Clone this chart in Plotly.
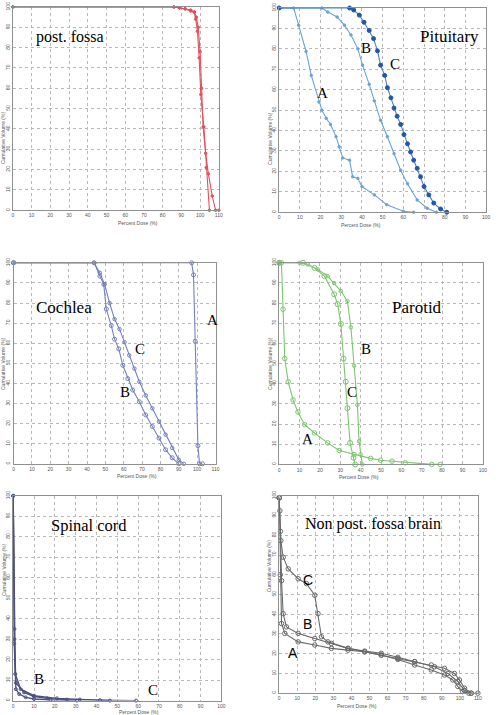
import plotly.graph_objects as go

# ---------------- data ----------------
# Panel 1: post. fossa
pf1_x = [0, 86, 89, 92, 95, 96.8, 97.7, 98.6, 99.5, 100.4, 102, 103.3, 105]
pf1_y = [100, 100, 99.5, 99, 98, 97.5, 94, 88, 75, 57, 41, 21, 0]
pf2_x = [0, 86, 89, 92, 95, 97, 98, 99, 100, 100.8, 101.6, 103, 104.4, 106.5, 108.3, 110]
pf2_y = [100, 100, 99.6, 99.2, 98.5, 97.5, 95, 90, 78, 60, 41, 28, 18, 7, 0, 0]

# Panel 2: Pituitary
pitA_x = [0, 7, 9.4, 13, 15.5, 19.2, 20.6, 22.7, 24.8, 27.5, 29, 30.7, 34, 35.5, 38, 40, 46, 52, 60, 65]
pitA_y = [100, 100, 91.6, 78.7, 67, 54, 50, 46, 43, 37, 32, 26.6, 25.5, 17.4, 16.6, 12.6, 8.5, 3.7, 0.5, 0]
pitB_x = [0, 20.6, 23.5, 28, 31.5, 34.7, 38, 40.3, 43.5, 46, 49, 52.3, 55.5, 58.7, 62, 66.7, 71.5, 76]
pitB_y = [100, 100, 98, 95.6, 91.6, 86.8, 80, 72, 62.6, 54.5, 45, 37, 28.7, 20.6, 14, 6, 2, 0]
pitC_x = [0, 34, 36, 38.7, 41, 43.5, 45.6, 47.5, 49, 51, 52.3, 54, 55.5, 57, 58.7, 60.3, 62, 63.5, 65,
          66.7, 68.3, 70, 72.3, 74.7, 78, 81]
pitC_y = [100, 100, 99, 96.5, 93, 89, 85, 79, 72, 67, 61, 56, 51, 47, 43, 38, 33.5, 29.5, 25.5,
          21.5, 17.4, 12.6, 8.5, 4.5, 1.6, 0]

# Panel 3: Cochlea
cocA_x = [0, 97, 98, 98.9, 100.4, 101.3, 102.9]
cocA_y = [100, 100, 94, 61, 9, 0, 0]
cocB_x = [0, 43.9, 47, 49.1, 50.5, 53.2, 55, 57.3, 59.5, 62.2, 64.9, 68.5, 72, 75.6, 79.2, 82.8, 86.4, 90]
cocB_y = [100, 100, 93.4, 89.3, 77, 68.8, 62, 57.2, 49, 42.4, 36.7, 30.9, 24.3, 18.6, 12.8, 7, 3, 0]
cocC_x = [0, 43.9, 47, 49.6, 52.3, 55, 57.7, 60.4, 63, 65.8, 68.5, 72, 75.6, 79.2, 82.8, 86.4, 90, 92.7]
cocC_y = [100, 100, 95, 89.3, 80, 72, 67, 60.5, 54, 47.4, 40.8, 34, 27.6, 21, 14.5, 7.9, 2, 0]

# Panel 4: Parotid
parA_x = [0, 1.1, 1.9, 2.75, 4.4, 6.8, 9.2, 12.5, 17.3, 23.8, 29.5, 36.8, 44.9, 49.8, 55.4, 61.9, 74.9, 79]
parA_y = [100, 100, 77, 52.5, 41, 32, 26, 19.7, 15.6, 10.7, 6.9, 4.9, 3, 2.1, 1.6, 0.8, 0, 0]
parB_x = [0, 10, 14.1, 19, 23.8, 27, 30.3, 33.5, 35.2, 36.8, 38.4, 39.2, 40, 40.8]
parB_y = [100, 100, 99.2, 96.7, 93.4, 90, 86, 81, 68, 49, 29.5, 11.5, 5, 0]
parC_x = [0, 11.7, 17.3, 22.2, 27, 28.7, 30.3, 31.6, 32.7, 33.5, 34.8, 36.5, 37.3]
parC_y = [100, 100, 97.5, 93.4, 84.4, 79.5, 69.7, 52.5, 41, 27.9, 10.7, 3.3, 0]

# Panel 5: Spinal cord
spA_x = [0, 0.5, 1.3, 2.9, 6, 10, 17.9, 30.6]
spA_y = [100, 27.8, 5.6, 3.2, 1.6, 0.8, 0.3, 0]
spB_x = [0, 0.6, 1.3, 5.2, 10, 16.3, 25.8, 41.7, 59]
spB_y = [100, 30, 8.7, 4, 2, 1.1, 0.5, 0.2, 0]
spC_x = [0, 0.6, 1.0, 3.6, 10, 21, 32, 46.4]
spC_y = [100, 35, 13, 5.6, 2.4, 1.1, 0.5, 0]

# Panel 6: Non post. fossa brain
brC_x = [0, 0.4, 0.9, 2.2, 5, 10.5, 15.1, 19.7, 21.5, 23.4, 27, 38.1, 47.3, 56.5, 65.7, 75, 86, 93.4, 98.9, 102.6, 106.3, 110]
brC_y = [99, 92.4, 77.3, 68.9, 63, 58, 55.5, 49.6, 40.3, 28.6, 26, 22.7, 21.3, 20.2, 18.2, 16, 13.4, 10, 5.9, 1.3, 0, 0]
brB_x = [0, 0.7, 1.3, 2.2, 4, 10.5, 19.7, 28.9, 38.1, 47.3, 56.5, 65.7, 75, 84.2, 91.5, 97, 99.8, 102.6, 106.3]
brB_y = [99, 82, 57, 40.3, 33.6, 30.3, 27.7, 25.2, 22.7, 21, 19.3, 17.6, 16, 14.3, 12.6, 10, 6.7, 2.5, 0]
brA_x = [0, 0.6, 1.3, 3.1, 10.5, 19.7, 28.9, 38.1, 47.3, 56.5, 65.7, 75, 84.2, 91.5, 96.1, 98.9, 101.6, 105]
brA_y = [99, 60, 35.3, 30.3, 26, 24.4, 22.7, 21.8, 21, 19.3, 17.1, 14.3, 11.8, 9.2, 6.7, 3.4, 0.8, 0]

y_ticks = list(range(0, 101, 10))

# ---------------- layout geometry ----------------
W, H = 500, 715
panels = [
    # (x0px, x1px, ytop_px, ybot_px, xmax)
    (12, 220, 2, 207, 110),
    (281, 490, 3, 209, 100),
    (12.7, 216.7, 260, 462.7, 110),
    (281, 486.7, 260, 463.3, 100),
    (12.3, 222.7, 495, 701.5, 100),
    (281, 481.7, 495, 694, 110),
]

fig = go.Figure()

def add_curve(i, xs, ys, color, msize=3, mcolor=None, symbol="circle-open", lw=1.1):
    fig.add_trace(go.Scatter(
        x=xs, y=ys, mode="lines+markers",
        line=dict(color=color, width=lw),
        marker=dict(size=msize, color=mcolor or color, symbol=symbol, line=dict(width=1, color=mcolor or color)),
        xaxis="x" + ("" if i == 1 else str(i)), yaxis="y" + ("" if i == 1 else str(i)),
        showlegend=False, cliponaxis=False,
    ))

red = "#e2505c"
add_curve(1, pf1_x, pf1_y, red, 2.5, symbol="circle")
add_curve(1, pf2_x, pf2_y, red, 2.5, symbol="circle")

lb = "#6aa3d8"
add_curve(2, pitA_x, pitA_y, lb, 2.5, symbol="circle")
add_curve(2, pitB_x, pitB_y, lb, 2.5, symbol="circle")
add_curve(2, pitC_x, pitC_y, "#4a82cc", 4, mcolor="#2456a8", symbol="circle")

pv = "#7480bd"
add_curve(3, cocA_x, cocA_y, pv, 4)
add_curve(3, cocB_x, cocB_y, pv, 4)
add_curve(3, cocC_x, cocC_y, pv, 3.5)

gr = "#7cc66e"
add_curve(4, parA_x, parA_y, gr, 4.5)
add_curve(4, parB_x, parB_y, gr, 3.5)
add_curve(4, parC_x, parC_y, gr, 5)

nv = "#4c5082"
add_curve(5, spA_x, spA_y, nv, 3, lw=1.4)
add_curve(5, spB_x, spB_y, nv, 3, lw=1.4)
add_curve(5, spC_x, spC_y, nv, 3, lw=1.4)

gy = "#6a6a6a"
add_curve(6, brC_x, brC_y, gy, 4.5)
add_curve(6, brB_x, brB_y, gy, 4.5)
add_curve(6, brA_x, brA_y, gy, 4.5)

axis_font = dict(family="Liberation Sans", size=5, color="#555")
annotations = []
for k, (x0, x1, yt, yb, xmax) in enumerate(panels, start=1):
    sx = "" if k == 1 else str(k)
    xd = [x0 / W, x1 / W]
    yd = [1 - yb / H, 1 - yt / H]
    fig.layout["xaxis" + sx] = dict(
        domain=xd, range=[0, xmax], anchor="y" + sx,
        tickvals=list(range(0, xmax + 1, 10)), tickfont=axis_font,
        showgrid=True, gridcolor="#b8b8b8", griddash="dot", gridwidth=1,
        showline=True, linecolor="#909090", linewidth=1.2, mirror=True,
        zeroline=False, ticks="", ticklen=0,
    )
    fig.layout["yaxis" + sx] = dict(
        domain=yd, range=[0, 100], anchor="x" + sx,
        tickvals=y_ticks, tickfont=axis_font, tickangle=-90,
        showgrid=True, gridcolor="#b8b8b8", griddash="dot", gridwidth=1,
        showline=True, linecolor="#909090", linewidth=1.2, mirror=True,
        zeroline=False, ticks="", ticklen=0,
    )
    # axis titles
    ty = min(yb + 12.5, 712.5)
    annotations.append(dict(text="Percent Dose (%)", x=(x0 + x1) / 2 / W, y=1 - ty / H,
                            xref="paper", yref="paper", showarrow=False, yanchor="middle",
                            font=dict(family="Liberation Sans", size=5, color="#555")))
    annotations.append(dict(text="Cumulative Volume (%)", x=(x0 - 10) / W, y=1 - (yt + yb) / 2 / H,
                            xref="paper", yref="paper", showarrow=False, textangle=-90,
                            xanchor="center",
                            font=dict(family="Liberation Sans", size=5, color="#555")))

serif = "Liberation Serif"
def lab(i, text, x, y, size=15, family=serif, xanchor="center"):
    sx = "" if i == 1 else str(i)
    annotations.append(dict(text=text, x=x, y=y, xref="x" + sx, yref="y" + sx,
                            showarrow=False, xanchor=xanchor, yanchor="middle",
                            font=dict(family=family, size=size, color="black")))

lab(1, "post. fossa", 11.1, 85, 16, xanchor="left")
lab(2, "Pituitary", 67.3, 86, 17, xanchor="left")
lab(2, "A", 21.1, 58.5)
lab(2, "B", 41.9, 80.3)
lab(2, "C", 56, 72.6)
lab(3, "Cochlea", 10.9, 77.8, 17, xanchor="left")
lab(3, "A", 108.2, 71.7)
lab(3, "C", 68.6, 57.2)
lab(3, "B", 60.6, 35.9)
lab(4, "Parotid", 54.6, 77.9, 17, xanchor="left")
lab(4, "B", 42.5, 57.4)
lab(4, "C", 35.6, 35.7)
lab(4, "A", 14.1, 12.8)
lab(5, "Spinal cord", 17.1, 85.7, 16.5, xanchor="left")
lab(5, "A", -1.9, 4.2)
lab(5, "B", 12.4, 10.6)
lab(5, "C", 67.3, 5.0)
lab(6, "Non post. fossa brain", 13.2, 85.7, 16, xanchor="left")
lab(6, "C", 15.9, 57.5, 14, family="Liberation Sans")
lab(6, "B", 15.5, 35.3, 14, family="Liberation Sans")
lab(6, "A", 7.7, 20.5, 14, family="Liberation Sans")

fig.update_layout(
    width=W, height=H, margin=dict(l=0, r=0, t=0, b=0),
    paper_bgcolor="white", plot_bgcolor="white",
    annotations=annotations, showlegend=False,
)

fig.write_html("out.html")
